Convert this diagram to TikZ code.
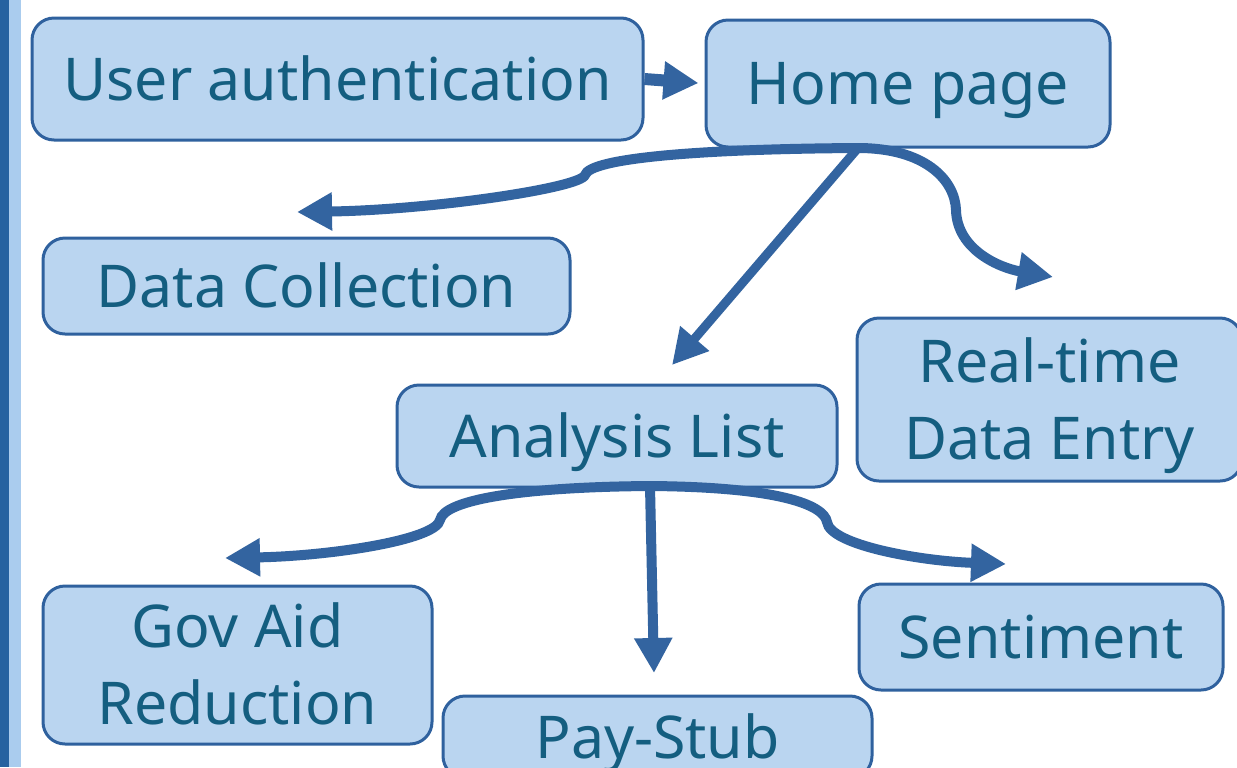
\documentclass[tikz,border=0pt]{standalone}
\usepackage{fontspec}
\setmainfont{Noto Sans}
\usetikzlibrary{arrows.meta}
\definecolor{boxfill}{RGB}{186,213,240}
\definecolor{boxline}{RGB}{47,97,158}
\definecolor{arrowcol}{RGB}{51,100,160}
\definecolor{txtcol}{RGB}{20,94,128}
\definecolor{bardark}{RGB}{38,98,160}
\definecolor{barlight}{RGB}{170,204,238}
\begin{document}
\begin{tikzpicture}[x=0.5pt,y=-0.5pt,
  boxbase/.style={draw=boxline, line width=1.5pt, fill=boxfill, rounded corners=11pt,
    text=txtcol, font=\fontsize{29.5}{38.5}\selectfont, align=center, inner sep=0pt},
  box/.style={boxbase, text height=21pt, text depth=0pt},
  boxtwo/.style={boxbase, text height=59.5pt, text depth=0pt},
  conn/.style={draw=arrowcol, line width=5pt, -{Triangle[length=17.5pt,width=18pt]}}]
\fill[white] (0,0) rectangle (1237,767);
\useasboundingbox (0,0) rectangle (1237,767);
\fill[bardark] (0,0) rectangle (9,767);
\fill[barlight] (9,0) rectangle (21,767);

\node[box, minimum width=305.5pt, minimum height=61pt] (user) at (337.5,79) {User authentication};
\node[box, minimum width=202pt, minimum height=63.5pt] (home) at (908,83.5) {Home page};
\node[box, minimum width=263.5pt, minimum height=48pt] (data) at (306.5,286) {Data Collection};
\node[boxtwo, minimum width=192.5pt, minimum height=81.5pt] (real) at (1049.5,399.5) {Real-time\\Data Entry};
\node[box, minimum width=220pt, minimum height=51pt] (analysis) at (617,436) {Analysis List};
\node[boxtwo, minimum width=194.5pt, minimum height=79pt] (gov) at (237.5,665) {Gov Aid\\Reduction};
\node[box, minimum width=214.5pt, minimum height=41pt] (pay) at (657.5,737) {Pay-Stub};
\node[box, minimum width=182pt, minimum height=53pt] (sent) at (1041,637) {Sentiment};

\coordinate (hb) at (858,148);
\coordinate (ltip) at (297,212);
\coordinate (rtip) at (1053,277);
\coordinate (dtip) at (672,365);
\coordinate (ab) at (650,486);
\coordinate (gtip) at (225,558);
\coordinate (stip) at (1006,564);
\coordinate (ptip) at (654,673);

\draw[conn, line width=6pt, shorten >=3pt] (user.east) -- (home.west);

\draw[conn] (hb) .. controls (700,149) and (590,158) .. (585,175)
  .. controls (581,188) and (430,210) .. (ltip);
\draw[conn] (hb) .. controls (925,148) and (955,180) .. (956,210)
  .. controls (957,250) and (1000,268) .. (rtip);
\draw[conn, line width=4.5pt] (hb) -- (dtip);

\draw[conn] (ab) .. controls (520,487) and (444,500) .. (440,520)
  .. controls (436,540) and (330,556) .. (gtip);
\draw[conn] (ab) .. controls (780,487) and (824,505) .. (827,522)
  .. controls (830,545) and (920,561) .. (stip);
\draw[conn] (ab) -- (ptip);
\end{tikzpicture}
\end{document}
